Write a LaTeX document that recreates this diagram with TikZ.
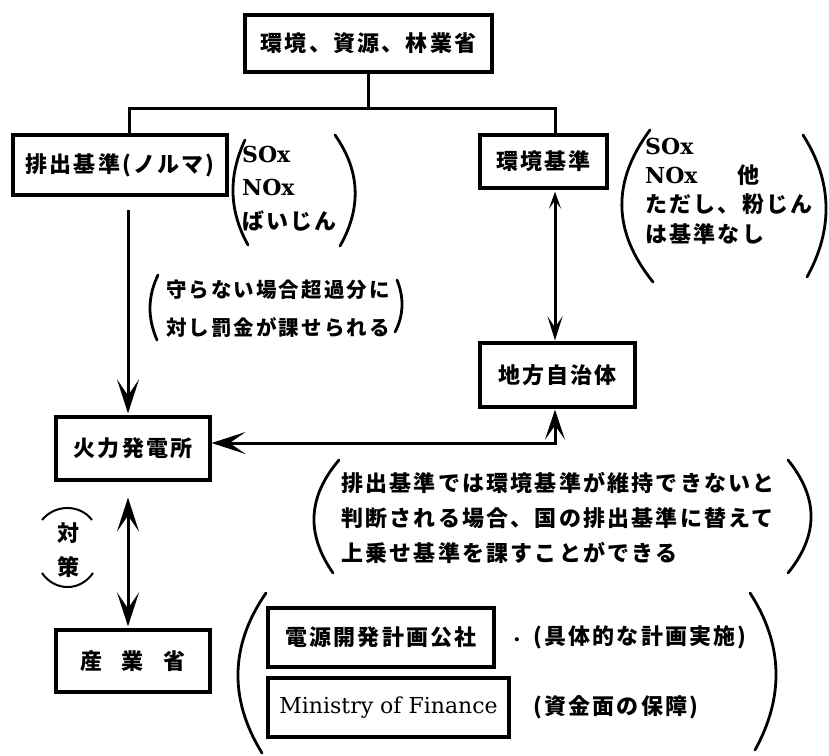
\documentclass[tikz,border=0pt]{standalone}
\usepackage{fontspec}
\setmainfont{Noto Sans CJK JP}[LetterSpace=10]
\newfontfamily\lat{DejaVu Serif}
\usetikzlibrary{arrows.meta}
\tikzset{
  box/.style={draw, line width=3.2pt, inner sep=0pt, font=\fontsize{22}{26}\selectfont\bfseries},
  txt/.style={inner sep=0pt, align=left, font=\fontsize{22}{26}\selectfont\bfseries},
  paren/.style={line width=2.8pt, line cap=round},
  conn/.style={draw, line width=3pt},
}
\begin{document}
\begin{tikzpicture}[x=1pt,y=-1pt]
\useasboundingbox (0,0) rectangle (829,755);
% boxes
\node[box, minimum width=247pt, minimum height=57pt] (top) at (368.5,43.5) {環境、資源、林業省};
\node[box, minimum width=214pt, minimum height=60pt] (hai) at (120,165) {排出基準(ノルマ)};
\node[box, minimum width=127pt, minimum height=53pt] (kan) at (543.5,161.5) {環境基準};
\node[box, minimum width=155pt, minimum height=64pt] (chi) at (557.5,375) {地方自治体};
\node[box, minimum width=154pt, minimum height=63pt] (kar) at (133,448.5) {火力発電所};
\node[box, minimum width=154pt, minimum height=62pt] (san) at (133,661) {産\hspace{0.9em}業\hspace{0.9em}省};
\node[box, minimum width=226pt, minimum height=59pt] (den) at (381,637.5) {電源開発計画公社};
\node[box, minimum width=241pt, minimum height=59pt] (mof) at (388.5,707.5) {\lat\mdseries\addfontfeature{LetterSpace=0}Ministry of Finance};
% coordinates
\coordinate (busL) at (129,108);
\coordinate (busR) at (555,108);
\coordinate (colA) at (128,0);
\coordinate (colB) at (555,0);
\coordinate (rowC) at (0,443);
% tree lines
\draw[conn] (top.south) -- (top.south |- busL);
\draw[conn, line cap=rect] (busL) -- (busR);
\draw[conn] (busL) -- (busL |- hai.north);
\draw[conn] (busR) -- (busR |- kan.north);
% arrows
\draw[conn, -{Stealth[length=34pt,width=22pt,inset=16pt]}, shorten <=13pt, shorten >=2pt] (hai.south -| colA) -- (kar.north -| colA);
\draw[conn, {Stealth[length=17pt,width=12pt,inset=8pt]}-{Stealth[length=24pt,width=15pt,inset=11pt]}, shorten <=2pt, shorten >=1pt] (kan.south -| colB) -- (chi.north -| colB);
\draw[conn, {Stealth[length=34pt,width=22pt,inset=16pt]}-{Stealth[length=30pt,width=20pt,inset=14pt]}, shorten >=1pt] (kar.east |- rowC) -| (chi.south -| colB);
\draw[conn, {Stealth[length=34pt,width=22pt,inset=16pt]}-{Stealth[length=34pt,width=22pt,inset=16pt]}, shorten <=16pt, shorten >=2pt] (kar.south -| colA) -- (san.north -| colA);
% text groups
\node[txt, anchor=west, font=\fontsize{22}{33.5}\selectfont\bfseries] (g1) at (242,188.5) {{\lat SOx}\\{\lat NOx}\\ばいじん};
\node[txt, anchor=west, font=\fontsize{22}{29.3}\selectfont\bfseries] (g2) at (645,191) {{\lat SOx}\\{\lat NOx}\hspace{40pt}他\\ただし、粉じん\\は基準なし};
\node[txt, anchor=west, font=\fontsize{20.5}{38}\selectfont\bfseries] (g3) at (166,309) {守らない場合超過分に\\対し罰金が課せられる};
\node[txt, anchor=west, font=\fontsize{22}{35}\selectfont\bfseries] (g4) at (341,518) {排出基準では環境基準が維持できないと\\判断される場合、国の排出基準に替えて\\上乗せ基準を課すことができる};
\node[txt, anchor=west] (d1) at (533,637) {(具体的な計画実施)};
\node[txt, anchor=west] (d2) at (533,707) {(資金面の保障)};
\node[txt] (dot) at (517,640) {\lat .};
\node[txt] (tai) at (68,533) {対};
\node[txt] (saku) at (68,567) {策};
% parentheses
\draw[paren] (245,140) .. controls (228.5,175) and (228.5,210) .. (248,245);
\draw[paren] (335,135) .. controls (361,172) and (361,209) .. (340,246);
\draw[paren] (650,130) .. controls (612,181) and (612,231) .. (653,282);
\draw[paren] (803,135) .. controls (833,182) and (833,230) .. (807,277);
\draw[paren] (158,275) .. controls (147.5,297) and (147.5,318) .. (157,340);
\draw[paren] (397,280) .. controls (404,297) and (404,315) .. (395,332);
\draw[paren] (339,460) .. controls (306.7,498) and (306.7,535) .. (333,573);
\draw[paren] (788,460) .. controls (818.7,498) and (818.7,535) .. (788,573);
\draw[paren] (266,593) .. controls (229.3,646) and (229.3,700) .. (262,753);
\draw[paren] (750,593) .. controls (783.8,645) and (783.8,698) .. (755,750);
% arcs around 対策
\draw[line width=2pt] (42,520) .. controls (55,504) and (80,504) .. (92,520);
\draw[line width=2pt] (42,573) .. controls (55,591.7) and (80,591.7) .. (93,573);
\end{tikzpicture}
\end{document}
